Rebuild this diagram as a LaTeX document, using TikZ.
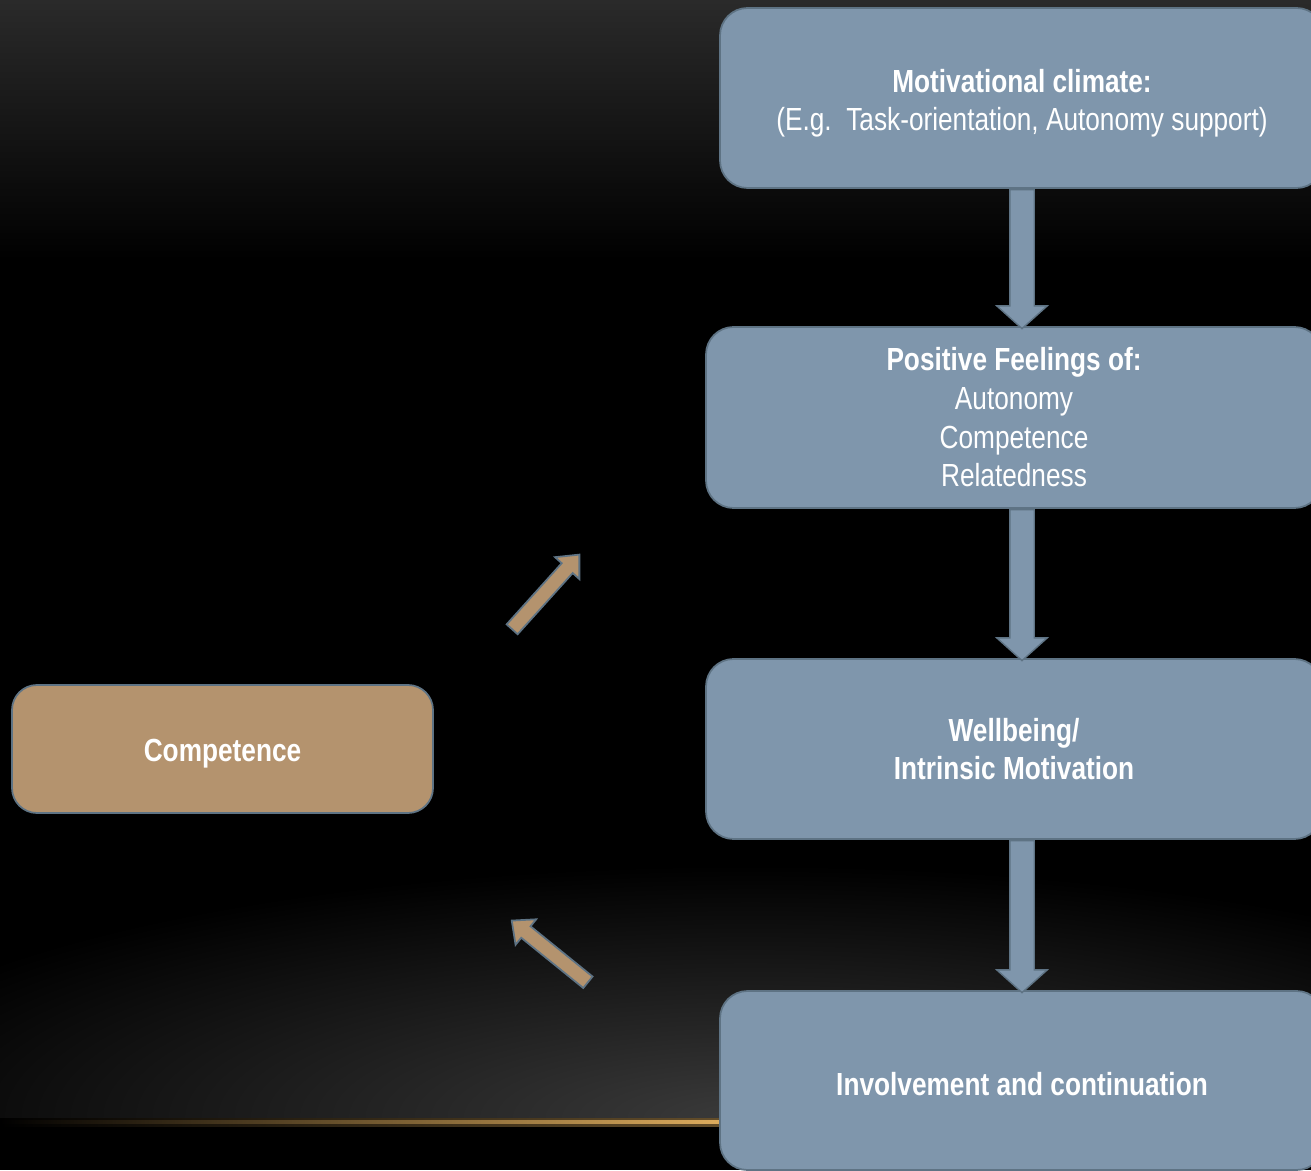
\documentclass[tikz,border=0pt]{standalone}
\usepackage{fontspec}
\setmainfont{Liberation Sans}[FakeStretch=0.82]
\usepackage{tikz}
\usetikzlibrary{shapes.arrows, positioning, calc}
\definecolor{boxblue}{HTML}{7F96AC}
\definecolor{boxedge}{HTML}{5E7384}
\definecolor{boxtan}{HTML}{B4936E}
\definecolor{bgtop}{HTML}{2A2A2A}
\definecolor{bgglow}{HTML}{3A3A3A}
\definecolor{linegold}{HTML}{E0AE5E}
\tikzstyle{stage} = [rectangle, rounded corners=0.55cm, draw=boxedge, line width=1pt, fill=boxblue, text=white, align=center, font=\fontsize{18.2}{22}\selectfont, execute at begin node={\rule{0pt}{0.62cm}}]
\tikzstyle{downarrow} = [single arrow, shape border rotate=270, anchor=tail, draw=boxedge, line width=0.8pt, fill=boxblue, inner sep=0.23cm, single arrow head extend=0.26cm, single arrow tip angle=96, single arrow head indent=0cm]
\tikzstyle{tanarrow} = [single arrow, draw=boxedge, line width=1pt, fill=boxtan, inner sep=0.13cm, single arrow head extend=0.18cm, single arrow tip angle=84]

\begin{document}
\begin{tikzpicture}
    % Background
    \useasboundingbox (0,0) rectangle (26.22,23.4);
    \clip (0,0) rectangle (26.22,23.4);
    \fill[black] (0,0) rectangle (26.22,23.4);
    \shade[top color=bgtop, bottom color=black] (0,18.2) rectangle (26.22,23.4);
    \begin{scope}
        \clip (0,0.96) rectangle (26.22,8);
        \shade[inner color=bgglow, outer color=black] (-4,-4) rectangle (34,6.1);
    \end{scope}
    \shade[left color=black, right color=linegold!45!black] (0,0.88) rectangle (14.6,1.04);
    \shade[left color=black, right color=linegold] (0,0.935) rectangle (14.6,0.985);

    % Main stages
    \node (climate) [stage, execute at begin node={\rule{0pt}{1.45cm}}, minimum width=12.08cm, minimum height=3.6cm] at (20.44,21.44) {\textbf{Motivational climate:}\\(E.g.\ \ Task-orientation, Autonomy support)};

    \node (feelings) [stage, minimum width=12.32cm, minimum height=3.62cm] at (20.28,15.05) {\textbf{Positive Feelings of:}\\Autonomy\\Competence\\Relatedness};

    \node (wellbeing) [stage, minimum width=12.32cm, minimum height=3.6cm] at (20.28,8.42) {\textbf{Wellbeing/}\\\textbf{Intrinsic Motivation}};

    \node (involvement) [stage, minimum width=12.08cm, minimum height=3.58cm] at (20.44,1.79) {\textbf{Involvement and continuation}};

    % Side box
    \node (competence) [stage, fill=boxtan, rounded corners=0.5cm, minimum width=8.42cm, minimum height=2.56cm] at (4.45,8.42) {\textbf{Competence}};

    % Flow arrows
    \node (flow1) [downarrow, minimum height=2.78cm] at (climate.south) {};
    \node (flow2) [downarrow, minimum height=3.02cm] at (climate.south |- feelings.south) {};
    \node (flow3) [downarrow, minimum height=3.04cm] at (climate.south |- wellbeing.south) {};

    % Loop arrows
    \node (loopup) [tanarrow, rotate=48, minimum height=2.01cm] at (10.86,11.5) {};
    \node (loopback) [tanarrow, rotate=141, minimum height=1.96cm] at (11.06,4.32) {};
\end{tikzpicture}
\end{document}
